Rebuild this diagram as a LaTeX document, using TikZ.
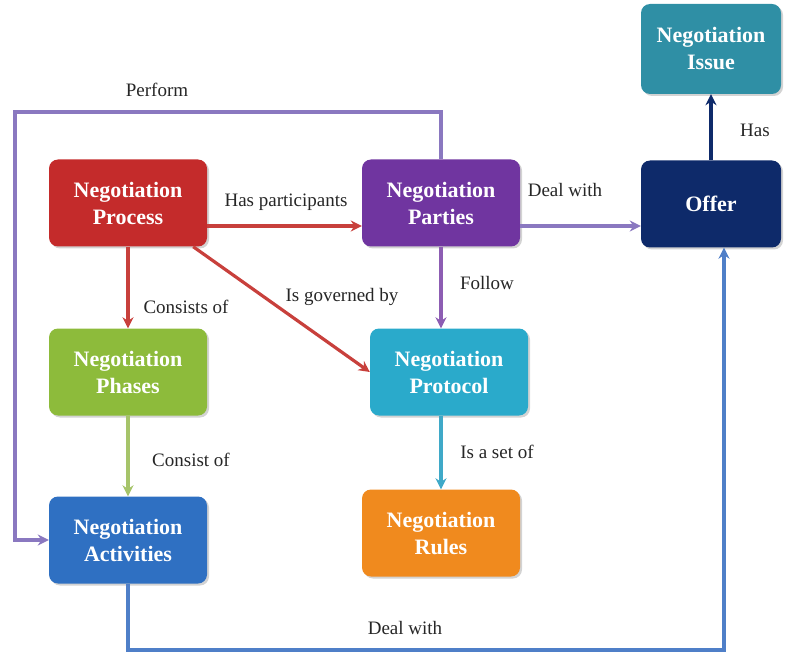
\documentclass[tikz,border=0pt]{standalone}
\usepackage{fontspec}
\setmainfont{Liberation Serif}
\usetikzlibrary{arrows.meta,shadows}
\definecolor{cProcess}{HTML}{C42B2B}
\definecolor{cParties}{HTML}{7035A0}
\definecolor{cOffer}{HTML}{0E2A6A}
\definecolor{cIssue}{HTML}{2F8FA5}
\definecolor{cPhases}{HTML}{8DBB3B}
\definecolor{cProtocol}{HTML}{2AAACB}
\definecolor{cActivities}{HTML}{2F70C2}
\definecolor{cRules}{HTML}{F08A1E}
\definecolor{lPurple}{HTML}{8A78C0}
\definecolor{lRed}{HTML}{C8403C}
\definecolor{lGreen}{HTML}{A6C46A}
\definecolor{lCyan}{HTML}{3FA9C8}
\definecolor{lBlue}{HTML}{4F7FC8}
\tikzset{
  concept/.style={rounded corners=9pt, minimum width=158pt, minimum height=87pt,
    align=center, text=white, font=\fontsize{22}{27}\selectfont\bfseries,
    drop shadow={shadow xshift=2pt, shadow yshift=-2pt, opacity=0.35}},
  rel/.style={line width=3.2pt, -{Stealth[length=11pt,width=11pt]}},
  lbl/.style={font=\fontsize{19}{22}\selectfont, text=black!85}
}
\begin{document}
\begin{tikzpicture}[x=1pt,y=-1pt]
\useasboundingbox (0,0) rectangle (792,652);
% concepts
\node[concept, fill=cProcess]    (proc)  at (128,203) {Negotiation\\Process};
\node[concept, fill=cParties]    (part)  at (441,203) {Negotiation\\Parties};
\node[concept, fill=cOffer, minimum width=140pt] (offer) at (711,204) {Offer};
\node[concept, fill=cIssue, minimum width=140pt, minimum height=90pt] (issue) at (711,49) {Negotiation\\Issue};
\node[concept, fill=cPhases]     (phase) at (128,372) {Negotiation\\Phases};
\node[concept, fill=cProtocol]   (prot)  at (449,372) {Negotiation\\Protocol};
\node[concept, fill=cActivities] (act)   at (128,540) {Negotiation\\Activities};
\node[concept, fill=cRules]      (rules) at (441,533) {Negotiation\\Rules};
% helper points for the routed connectors
\coordinate (pTop)  at (15,112);
\coordinate (pBot)  at (15,540);
\coordinate (dLeft) at (128,650);
\coordinate (dRight) at (724,650);
% relations
\draw[rel, color=lRed] (proc.east |- 0,226) -- (part.west |- 0,226);
\node[lbl] (lHas) at (286,202) {Has participants};
\draw[rel, color=lPurple] (part.east |- 0,226) -- (offer.west |- 0,226);
\node[lbl] (lDeal1) at (565,190) {Deal with};
\draw[rel, color=cOffer] (offer.north) -- (issue.south);
\node[lbl] (lHas2) at (755,130) {Has};
\draw[rel, color=lRed] (proc.south) -- (phase.north);
\node[lbl] (lCons) at (186,307) {Consists of};
\draw[rel, color=lRed] (proc.south east) ++(-14,0) -- (prot.west |- 0,372);
\node[lbl] (lGov) at (342,297) {Is governed by};
\draw[rel, color=cParties!80] (part.south) -- (part.south |- prot.north);
\node[lbl] (lFol) at (487,283) {Follow};
\draw[rel, color=lGreen] (phase.south) -- (act.north);
\node[lbl] (lCon2) at (191,460) {Consist of};
\draw[rel, color=lCyan] (rules.north |- prot.south) -- (rules.north);
\node[lbl] (lSet) at (497,452) {Is a set of};
\draw[rel, color=lPurple] (part.north) -- (part.north |- pTop) -- (pTop) -- (pBot) -- (act.west);
\node[lbl] (lPerf) at (157,90) {Perform};
\draw[rel, color=lBlue] (act.south) -- (dLeft) -- (dRight) -- (dRight |- offer.south);
\node[lbl] (lDeal2) at (405,628) {Deal with};
\end{tikzpicture}
\end{document}
